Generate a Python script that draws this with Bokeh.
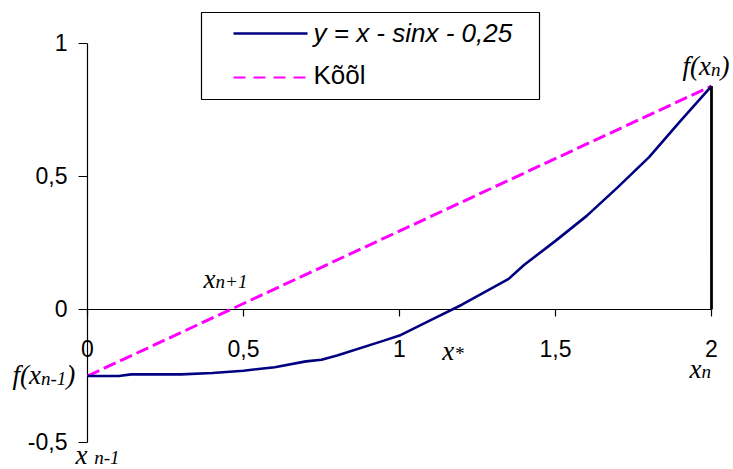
from bokeh.plotting import figure
from bokeh.models import Range1d
from bokeh.embed import file_html
from bokeh.resources import INLINE
from bokeh.core.properties import value
import numpy as np

# Sampled curve y = x - sin x - 0.25 on [0, 2]
x_vals = [0, 0.1, 0.14, 0.3, 0.4, 0.5, 0.6, 0.7, 0.75, 0.8, 0.95, 1.0,
          1.1, 1.2, 1.35, 1.4, 1.5, 1.6, 1.7, 1.8, 1.9, 2.0]
y_vals = [-0.25, -0.25, -0.244, -0.244, -0.239, -0.230, -0.217, -0.195,
          -0.189, -0.173, -0.117, -0.098, -0.040, 0.018, 0.115, 0.168,
          0.258, 0.352, 0.460, 0.573, 0.708, 0.840]

# Chord (secant) between the end points x_{n-1} = 0 and x_n = 2
chord_x = [0, 2]
chord_y = [-0.25, 0.84]

x_ticks = [0, 0.5, 1, 1.5, 2]
x_tick_labels = ["0", "0,5", "1", "1,5", "2"]
y_ticks = [-0.5, 0, 0.5, 1]
y_tick_labels = ["-0,5", "0", "0,5", "1"]

series_labels = ["y = x - sinx - 0,25", "Kõõl"]

# ---- canvas geometry ----
W, H = 733, 469
X0_PX, X_SCALE = 87, 312      # px of x = 0, px per unit
Y0_PX, Y_SCALE = 309, 266     # px of y = 0, px per unit


def sx(px):
    return (px - X0_PX) / X_SCALE


def sy(py):
    return (Y0_PX - py) / Y_SCALE


p = figure(width=W, height=H,
           x_range=Range1d(sx(0), sx(W)), y_range=Range1d(sy(H), sy(0)),
           output_backend="svg", toolbar_location=None, min_border=0,
           x_axis_location=None, y_axis_location=None,
           outline_line_color=None, background_fill_color="white",
           border_fill_color="white")
p.xgrid.visible = False
p.ygrid.visible = False

NAVY = "#000080"
MAGENTA = "#FF00FF"
SANS = value("Liberation Sans")
SERIF = value("Liberation Serif")

# ---- axes ----
p.segment(x0=[0], y0=[y_ticks[0]], x1=[0], y1=[y_ticks[-1]],
          line_color="black", line_width=1.2)
p.segment(x0=[x_ticks[0]], y0=[0], x1=[x_ticks[-1]], y1=[0],
          line_color="black", line_width=1.2)
p.ray(x=[0] * len(y_ticks), y=y_ticks, length=9, length_units="screen",
      angle=np.pi, line_color="black", line_width=1.2)
p.ray(x=x_ticks, y=[0] * len(x_ticks), length=7, length_units="screen",
      angle=-np.pi / 2, line_color="black", line_width=1.2)

p.text(x=x_ticks, y=[0] * len(x_ticks), text=x_tick_labels,
       text_align="center", text_baseline="alphabetic", y_offset=39,
       text_font=SANS, text_font_size="23px", text_color="black")
p.text(x=[0] * len(y_ticks), y=y_ticks, text=y_tick_labels,
       text_align="right", text_baseline="alphabetic", x_offset=-20,
       y_offset=-1, text_font=SANS, text_font_size="23px", text_color="black")

# ---- series ----
p.line(chord_x, chord_y, line_color=MAGENTA, line_width=3, line_dash="13 5")
p.line(x_vals, y_vals, line_color=NAVY, line_width=2.6)
p.segment(x0=[x_vals[-1]], y0=[0], x1=[x_vals[-1]], y1=[y_vals[-1]],
          line_color="black", line_width=2.8)

# ---- point annotations (italic serif with smaller subscripts) ----
SERIF_IT_ADV = {"f": 0.278, "(": 0.333, ")": 0.333, "x": 0.444, "n": 0.5,
                "-": 0.333, "+": 0.675, "1": 0.5, "*": 0.5, " ": 0.25}
MAIN, SUB = 27, 19
BASELINE_FIX = {MAIN: 10, SUB: 7}


def composite(ax, ay, dx, dy, pieces):
    cursor = 0.0
    for txt, size in pieces:
        p.text(x=[ax], y=[ay], text=[txt], x_offset=dx + cursor,
               y_offset=dy - BASELINE_FIX[size],
               text_align="left", text_baseline="alphabetic",
               text_font=SERIF, text_font_style="italic",
               text_font_size=f"{size}px", text_color="black")
        cursor += sum(SERIF_IT_ADV[c] for c in txt) * size


# chord root x_{n+1}
chord_root = chord_x[0] - chord_y[0] * (chord_x[1] - chord_x[0]) / (chord_y[1] - chord_y[0])
# curve root x*
i = next(k for k in range(len(y_vals) - 1) if y_vals[k] < 0 <= y_vals[k + 1])
curve_root = x_vals[i] - y_vals[i] * (x_vals[i + 1] - x_vals[i]) / (y_vals[i + 1] - y_vals[i])

composite(x_vals[-1], y_vals[-1], -29, -10, [("f(x", MAIN), ("n", SUB), (")", MAIN)])
composite(x_vals[0], y_vals[0], -75, 9, [("f(x", MAIN), ("n-1", SUB), (")", MAIN)])
composite(chord_root, 0, -27, -21, [("x", MAIN), ("n+1", SUB)])
composite(curve_root, 0, -10, 51, [("x", MAIN), ("*", SUB)])
composite(x_vals[-1], 0, -22, 69, [("x", MAIN), ("n", SUB)])
composite(x_vals[0], 0, -12, 155, [("x ", MAIN), ("n-1", SUB)])

# ---- legend ----
p.quad(left=[sx(201)], right=[sx(539)], top=[sy(12)], bottom=[sy(99)],
       fill_color="white", line_color="black", line_width=1.2)
p.line([sx(233), sx(307)], [sy(33), sy(33)], line_color=NAVY, line_width=2.6)
p.line([sx(233), sx(307)], [sy(77), sy(77)], line_color=MAGENTA,
       line_width=2.2, line_dash="12 8")
p.text(x=[sx(313)], y=[sy(32)], text=[series_labels[0]], text_align="left",
       text_baseline="alphabetic", text_font=SANS, text_font_style="italic",
       text_font_size="26px", text_color="black")
p.text(x=[sx(313)], y=[sy(74)], text=[series_labels[1]], text_align="left",
       text_baseline="alphabetic", text_font=SANS, text_font_size="26px",
       text_color="black")

open("out.html", "w").write(file_html(p, INLINE))
